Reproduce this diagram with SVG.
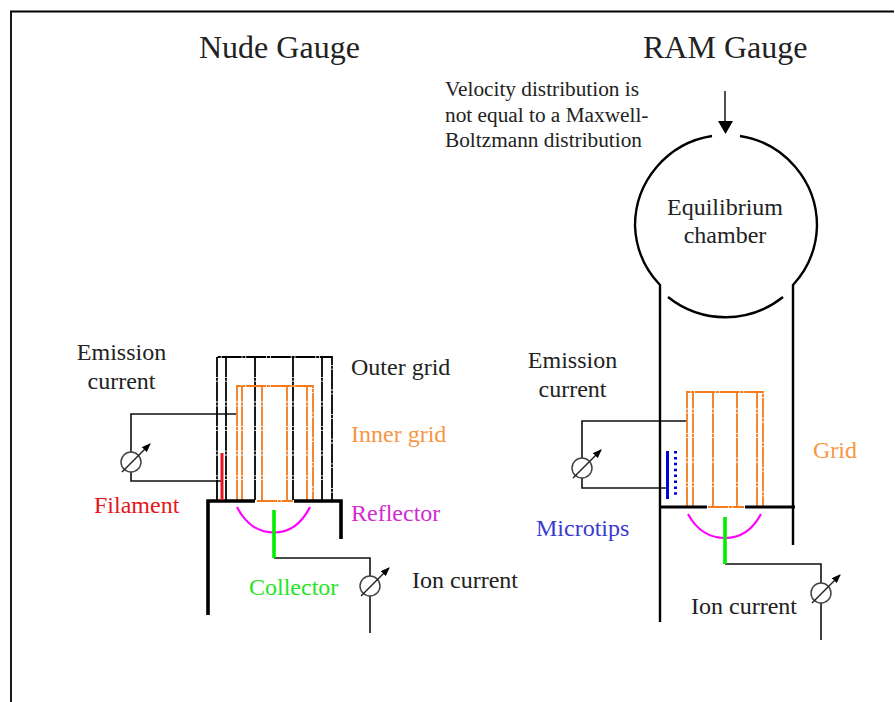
<svg xmlns="http://www.w3.org/2000/svg" width="895" height="702" viewBox="0 0 895 702">
<defs>
<marker id="ah" markerWidth="9" markerHeight="7" refX="8" refY="3.5" orient="auto" markerUnits="userSpaceOnUse"><path d="M0 0L9 3.500L0 7Z" fill="#000"/></marker>
<g id="meter"><circle r="10" fill="none" stroke="#444" stroke-width="1.5"/><line x1="-9" y1="10" x2="19" y2="-18" stroke="#222" stroke-width="1.4" marker-end="url(#ah)"/></g>
</defs>
<style>
text{font-family:"Liberation Serif","Times New Roman",serif;font-size:24px;fill:#222}
.t{font-size:32px}
.s{font-size:21.3px}
.m{text-anchor:middle}
.w{fill:none;stroke:#111;stroke-width:1.6}
.b{fill:none;stroke:#000;stroke-width:3.6}
.c{fill:none;stroke:#000;stroke-width:2.4}
.o{fill:none;stroke:#000;stroke-width:1.8;stroke-dasharray:20 .8 3 .8}
.i{fill:none;stroke:#f47a1c;stroke-width:1.8;stroke-dasharray:20 .8 3 .8}
.r{fill:none;stroke:#f0f;stroke-width:2.2}
.g{fill:none;stroke:#0e0;stroke-width:3.6}
</style>
<rect width="895" height="702" fill="#fff"/>
<path d="M11 702V11.500H894" fill="none" stroke="#000" stroke-width="1.800"/>
<g id="titles">
<text class="t" x="199" y="58">Nude Gauge</text>
<text class="t" x="643" y="58">RAM Gauge</text>
</g>
<g id="note">
<text class="s" x="445" y="96">Velocity distribution is</text>
<text class="s" x="445" y="122">not equal to a Maxwell-</text>
<text class="s" x="445" y="147">Boltzmann distribution</text>
</g>
<g id="connectors">
<path class="w" d="M237 414H131V452M131 472V481H222"/>
<path class="w" d="M274 558H370V576M370 596V633"/>
<path class="w" d="M687 421H582V458M582 478V488H667"/>
<path class="w" d="M725 564H821V583M821 603V640"/>
<line x1="725" y1="91" x2="725" y2="125" stroke="#222" stroke-width="1.600"/>
<path d="M718 121H733L725.500 134Z" fill="#000"/>
</g>
<g id="nude-outer-grid"><path class="o" d="M217 500V357H332V500M226 500V357M255 500V357M293 500V357M322 500V357"/></g>
<g id="nude-inner-grid"><path class="i" d="M237 500V386H313V500M242 500V386M262 500V386M287 500V386M307 500V386M257 501H293"/></g>
<g id="nude-body"><path class="b" d="M208 615V501H255M294 501H341V539"/></g>
<g id="nude-filament"><line x1="222" y1="453" x2="222" y2="500" stroke="#e8141c" stroke-width="3"/></g>
<g id="nude-reflector"><path class="r" d="M237 507C246 525 260 532.500 274 532.500S301 525 310 507"/></g>
<g id="nude-collector"><line class="g" x1="274" y1="510" x2="274" y2="558"/></g>
<g id="nude-emission-meter"><use href="#meter" x="131" y="462"/></g>
<g id="nude-ion-meter"><use href="#meter" x="370" y="586"/></g>
<g id="ram-chamber"><path class="c" d="M712 136A91 91 0 0 0 635 226A91 91 0 0 0 660 285V622M740 136A91 91 0 0 1 817 226A91 91 0 0 1 793 285V545M668 297A92 92 0 0 0 783 297"/></g>
<g id="ram-grid"><path class="i" d="M687 507V392H763V507M693 507V392M713 507V392M737 507V392M757 507V392M708 507H744"/></g>
<g id="ram-body"><path class="b" style="stroke-width:3" d="M660 507H707M745 507H795"/></g>
<g id="ram-microtips"><line x1="667.500" y1="451" x2="667.500" y2="499" stroke="#00d" stroke-width="3"/><line x1="675.500" y1="451" x2="675.500" y2="496" stroke="#00d" stroke-width="3" stroke-dasharray="2.500 3.400"/></g>
<g id="ram-reflector"><path class="r" d="M688 514C697 531 711 538 725 538S752 531 761 514"/></g>
<g id="ram-collector"><line class="g" x1="725" y1="517" x2="725" y2="564"/></g>
<g id="ram-emission-meter"><use href="#meter" x="582" y="468"/></g>
<g id="ram-ion-meter"><use href="#meter" x="821" y="593"/></g>
<g id="labels">
<text class="m" x="121.500" y="360">Emission</text>
<text class="m" x="121.500" y="389">current</text>
<text x="351" y="375">Outer grid</text>
<text x="351" y="442" style="fill:#f79646">Inner grid</text>
<text x="94" y="513" style="fill:#e8141c">Filament</text>
<text x="351" y="521" style="fill:#d22bd2">Reflector</text>
<text x="249" y="595" style="fill:#1ee61e">Collector</text>
<text x="412" y="588">Ion current</text>
<text class="m" x="572.500" y="368">Emission</text>
<text class="m" x="572.500" y="397">current</text>
<text x="813" y="458" style="fill:#f79646">Grid</text>
<text x="536" y="536" style="fill:#3a3ad0">Microtips</text>
<text x="691" y="614">Ion current</text>
<text class="m" x="725" y="215">Equilibrium</text>
<text class="m" x="725" y="243">chamber</text>
</g>
</svg>
